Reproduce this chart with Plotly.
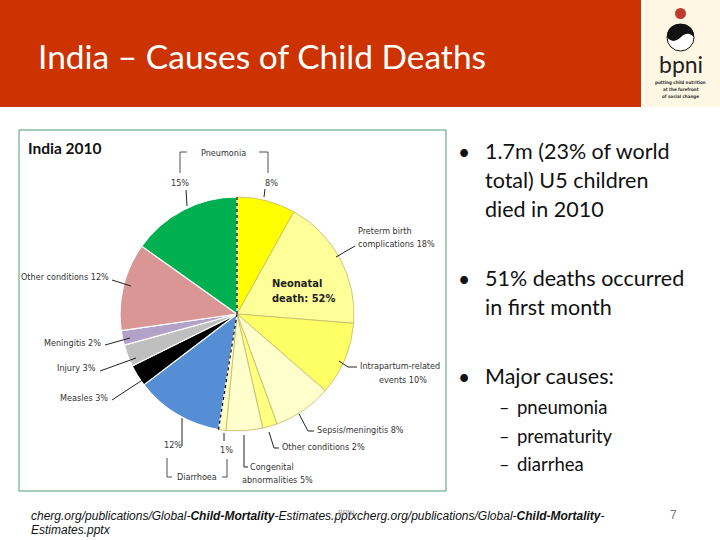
import math
import plotly.graph_objects as go

# pie data, clockwise from 12 o'clock
causes = ["Pneumonia (neonatal)", "Preterm birth complications", "Intrapartum-related events",
          "Sepsis/meningitis", "Other conditions (neonatal)", "Congenital abnormalities",
          "Diarrhoea (neonatal)", "Diarrhoea", "Measles", "Injury", "Meningitis",
          "Other conditions", "Pneumonia"]
shares = [8, 18, 10, 8, 2, 5, 1, 12, 3, 3, 2, 12, 15]
neonatal = [True] * 7 + [False] * 6
colors = ["#FFFF00", "#FFFF99", "#FFFF66", "#FFFFCC", "#FFFF80", "#FFFFCC", "#FFFFC4",
          "#558ED5", "#000000", "#BFBFBF", "#B3A2C7", "#D99694", "#00B050"]

bullets = [["1.7m (23% of world", "total) U5 children", "died in 2010"],
           ["51% deaths occurred", "in first month"],
           ["Major causes:"]]
sub_bullets = ["pneumonia", "prematurity", "diarrhea"]

W, H = 720, 540
CX, CY, R = 237, 314, 117


def px(x):
    return x / W


def py(y):
    return 1 - y / H


fig = go.Figure()
fig.add_trace(go.Pie(
    labels=causes, values=shares, sort=False, direction="clockwise", rotation=0,
    marker=dict(colors=colors,
                line=dict(color=["#C2B86A" if n else "#FFFFFF" for n in neonatal],
                          width=[0.8 if n else 1.2 for n in neonatal])),
    textinfo="none", hoverinfo="label+percent", showlegend=False,
    domain=dict(x=[px(CX - R), px(CX + R)], y=[py(CY + R), py(CY - R)]),
))

shapes = []
annots = []


def line(x0, y0, x1, y1, color="#000000", width=1, dash="solid"):
    shapes.append(dict(type="line", xref="paper", yref="paper", x0=px(x0), y0=py(y0),
                       x1=px(x1), y1=py(y1), line=dict(color=color, width=width, dash=dash)))


def text(x, y, s, size=9, color="#333333", anchor="left", family="Liberation Sans Narrow, DejaVu Sans Condensed, sans-serif"):
    annots.append(dict(x=px(x), y=py(y), xref="paper", yref="paper", text=s, showarrow=False,
                       xanchor=anchor, yanchor="middle", font=dict(size=size, color=color, family=family)))


# title bar and logo box
shapes.append(dict(type="rect", xref="paper", yref="paper", x0=0, x1=px(641), y0=py(107), y1=1,
                   fillcolor="#CC3300", line=dict(width=0), layer="below"))
shapes.append(dict(type="rect", xref="paper", yref="paper", x0=px(643), x1=1, y0=py(107), y1=1,
                   fillcolor="#FDF7E4", line=dict(width=0), layer="below"))
text(36, 56, "India – Causes of Child Deaths", size=33.5, color="#FFFFFF", family="Lato, Open Sans, sans-serif")

# logo
shapes.append(dict(type="circle", xref="paper", yref="paper", x0=px(675), x1=px(686), y0=py(19), y1=py(8),
                   fillcolor="#C0392B", line=dict(width=0)))
shapes.append(dict(type="circle", xref="paper", yref="paper", x0=px(667), x1=px(694), y0=py(51), y1=py(24),
                   fillcolor="#FFFFFF", line=dict(color="#111111", width=1)))
shapes.append(dict(type="path", xref="paper", yref="paper",
                   path=f"M {px(667)} {py(37.5)} Q {px(667)} {py(24)} {px(680.5)} {py(24)} "
                        f"Q {px(694)} {py(24)} {px(694)} {py(37.5)} "
                        f"Q {px(688)} {py(30)} {px(680)} {py(38)} Q {px(673)} {py(44)} {px(667)} {py(37.5)} Z",
                   fillcolor="#111111", line=dict(width=0)))
text(680.5, 64, "bpni", size=23, color="#222222", anchor="center", family="Lato, sans-serif")
for i, s in enumerate(["putting child nutrition", "at the forefront", "of social change"]):
    text(680.5, 83 + i * 7, f"<b>{s}</b>", size=4.5, color="#333333", anchor="center")

# chart frame
shapes.append(dict(type="rect", xref="paper", yref="paper", x0=px(19), x1=px(446), y0=py(491), y1=py(130),
                   line=dict(color="#4A9E70", width=1), layer="below"))
text(26, 148, "<b>India 2010</b>", size=15.5, color="#111111", family="Lato, Open Sans, sans-serif")

# dotted boundaries of the neonatal part, from the data
for frac in [0, sum(s for s, n in zip(shares, neonatal) if n) / sum(shares)]:
    a = 2 * math.pi * frac
    line(CX, CY, CX + R * math.sin(a), CY - R * math.cos(a), color="#000000", width=1.2, dash="dot")

lc = "#222222"
# pneumonia bracket
text(223, 153, "Pneumonia", anchor="center")
line(180, 152, 187, 152, lc, 0.8)
line(180, 152, 180, 173, lc, 0.8)
line(259, 152, 268, 152, lc, 0.8)
line(268, 152, 268, 173, lc, 0.8)
text(180, 183, "15%", anchor="center")
text(271, 183, "8%", anchor="center")
line(186, 190, 187, 206, lc, 1)
line(265, 189, 264, 197, lc, 1)
# right side labels
text(385, 231, "Preterm birth", anchor="center")
text(356, 244, "complications 18%")
line(355, 246, 336, 257, lc, 1)
text(270, 283, "<b>Neonatal</b>", size=11, color="#222222")
text(270, 298, "<b>death: 52%</b>", size=11, color="#222222")
text(358, 366, "Intrapartum-related")
text(377, 380, "events 10%")
line(339, 361, 348, 367, lc, 1)
line(348, 367, 357, 367, lc, 1)
text(315, 430, "Sepsis/meningitis 8%")
line(299, 414, 308, 431, lc, 1)
line(308, 431, 314, 431, lc, 1)
text(280, 447, "Other conditions 2%")
line(269, 432, 274, 448, lc, 1)
line(274, 448, 279, 448, lc, 1)
text(248, 467, "Congenital")
text(240, 480, "abnormalities 5%")
line(244, 435, 244, 467, lc, 1)
line(244, 467, 248, 467, lc, 1)
# left side labels
text(111, 277, "Other conditions 12%", anchor="right")
line(112, 280, 131, 286, lc, 1)
text(103, 343, "Meningitis 2%", anchor="right")
line(105, 345, 130, 338, lc, 1)
text(98, 368, "Injury 3%", anchor="right")
line(100, 371, 136, 358, lc, 1)
text(110, 398, "Measles 3%", anchor="right")
line(112, 400, 144, 379, lc, 1)
# diarrhoea bracket
line(182, 418, 182, 446, lc, 1)
text(173, 445, "12%", anchor="center")
line(224, 433, 224, 441, lc, 1)
text(226, 450, "1%", anchor="center")
text(197, 477, "Diarrhoea", anchor="center")
line(167, 458, 167, 477, lc, 0.8)
line(167, 477, 172, 477, lc, 0.8)
line(222, 477, 227, 477, lc, 0.8)
line(227, 477, 227, 459, lc, 0.8)

# bullets on the right
body = "Lato, Open Sans, sans-serif"
y = 151
for group in bullets:
    text(456, y, "•", size=21, color="#111111", family=body)
    for row in group:
        text(483, y, row, size=21.5, color="#111111", family=body)
        y += 29
    y += 40
y = 407
for s in sub_bullets:
    text(497, y, "–", size=18, color="#111111", family=body)
    text(515, y, s, size=18.5, color="#111111", family=body)
    y += 28.5

# footer
foot = "Liberation Sans, Arial, sans-serif"
text(29, 516, "<i>cherg.org/publications/Global-<b>Child-Mortality</b>-Estimates.pptx"
              "cherg.org/publications/Global-<b>Child-Mortality</b>-</i>", size=12, color="#111111", family=foot)
text(29, 530, "<i>Estimates.pptx</i>", size=12, color="#111111", family=foot)
text(346, 512, "BPNI", size=7, color="#999999", anchor="center", family=foot)
text(673, 515, "7", size=12, color="#777777", anchor="center", family=foot)

fig.update_layout(width=W, height=H, margin=dict(l=0, r=0, t=0, b=0),
                  paper_bgcolor="#FFFFFF", plot_bgcolor="#FFFFFF",
                  shapes=shapes, annotations=annots)
fig.write_html("out.html", config={"displayModeBar": False},
               post_script="document.body.style.margin='0';document.body.style.overflow='hidden';")
